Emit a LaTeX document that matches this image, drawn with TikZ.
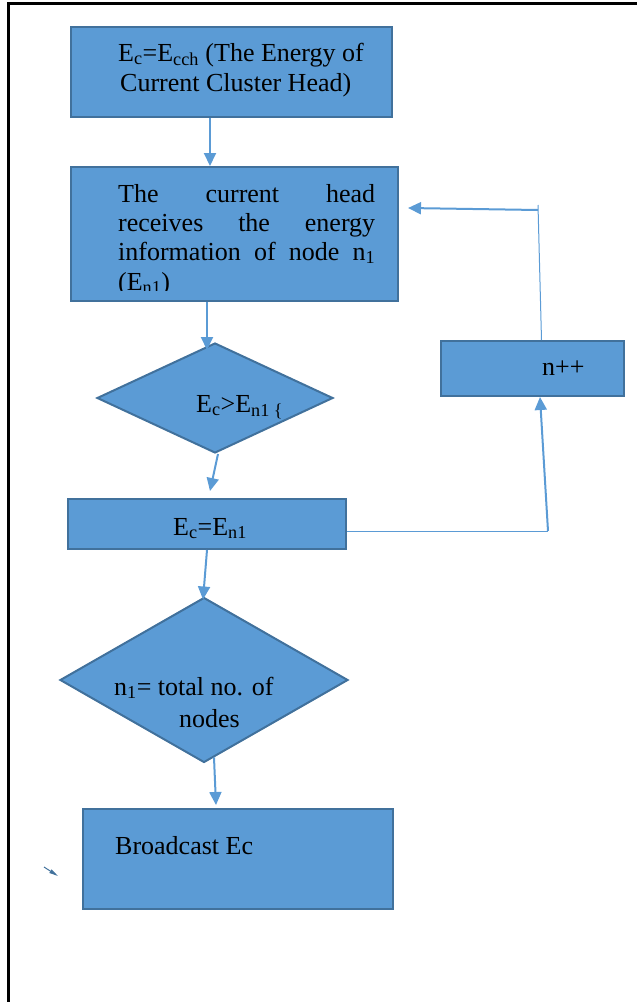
\documentclass[tikz,border=0pt]{standalone}
\usepackage{fontspec}
\setmainfont{Liberation Serif}
\usetikzlibrary{shapes.geometric,arrows.meta}
\definecolor{flowfill}{HTML}{5B9BD5}
\definecolor{flowedge}{HTML}{41719C}
\begin{document}
\begin{tikzpicture}[x=1pt,y=-1pt,
  every node/.style={font=\fontsize{26}{29.3}\selectfont,inner sep=0pt},
  procbox/.style={draw=flowedge,line width=2pt,fill=flowfill},
  decbox/.style={diamond,draw=flowedge,line width=2pt,fill=flowfill},
  flowarr/.style={draw=flowfill,line width=2pt,-{Triangle[length=13pt,width=12pt]}},
  thinline/.style={draw=flowfill,line width=1pt},
  lbl/.style={anchor=base west}]
\useasboundingbox (0,0) rectangle (637,1002);
\draw[line width=2.5pt] (8.7,1002) -- (8.7,3.7) -- (637,3.7);
% shapes
\node[procbox,minimum width=321pt,minimum height=90pt] (start) at (231.5,72) {};
\node[procbox,minimum width=327pt,minimum height=134pt] (recv) at (234.5,234) {};
\node[decbox,minimum width=236pt,minimum height=110pt] (cmp) at (215,398) {};
\node[procbox,minimum width=278pt,minimum height=50pt] (swap) at (207,524) {};
\node[procbox,minimum width=183pt,minimum height=55pt] (inc) at (532.5,368.5) {};
\node[decbox,minimum width=288pt,minimum height=165pt] (last) at (204,680) {};
\node[procbox,minimum width=310pt,minimum height=100pt] (bcast) at (238,859) {};
% texts
\node[lbl] (start-a) at (118,61) {E\textsubscript{c}=E\textsubscript{cch} (The Energy of};
\node[lbl] (start-b) at (120,91) {Current Cluster Head)};
\begin{scope}
\clip (72,168) rectangle (397,290.5);
\node[lbl] (recv-a) at (118,202) {\makebox[257pt][s]{The\hfill current\hfill head}};
\node[lbl] (recv-b) at (118,231) {\makebox[257pt][s]{receives\hfill the\hfill energy}};
\node[lbl] (recv-c) at (118,260) {\makebox[257pt][s]{information\hfill of\hfill node\hfill n\textsubscript{1}}};
\node[lbl] (recv-d) at (118,290) {(E\textsubscript{n1})};
\end{scope}
\node[lbl] (cmp-t) at (196,412) {E\textsubscript{c}>E\textsubscript{n1 \{}};
\node[lbl] (swap-t) at (173,535) {E\textsubscript{c}=E\textsubscript{n1}};
\node[lbl] (inc-t) at (542,375) {n++};
\node[lbl] (last-a) at (114,695) {n\textsubscript{1}= total no. of};
\node[lbl] (last-b) at (179,727) {nodes};
\node[lbl] (bcast-t) at (115,854) {Broadcast Ec};
% connectors
\coordinate (lowturn) at (548,531);
\coordinate (highturn) at (538,205);
\draw[flowarr] ([xshift=-21.5pt]start.south) -- ([xshift=-24.5pt]recv.north);
\draw[flowarr] ([xshift=-27.5pt]recv.south) -- ([xshift=-8pt,yshift=-8pt]cmp.north);
\draw[flowarr] ([xshift=3pt]cmp.south) -- ([xshift=3pt,yshift=7pt]swap.north);
\draw[thinline] ([yshift=-7pt]swap.east) -- (lowturn);
\draw[flowarr] (lowturn) -- ([xshift=7.5pt]inc.south);
\draw[thinline] ([xshift=9pt]inc.north) -- (highturn);
\draw[flowarr] ([yshift=-5pt]highturn) -- ([xshift=9pt,yshift=26pt]recv.east);
\draw[flowarr] (swap.south) -- ([xshift=-1pt,yshift=-3pt]last.north);
\draw[flowarr] ([xshift=10pt,yshift=6pt]last.south) -- ([xshift=-22pt,yshift=3pt]bcast.north);
% stray mark
\draw[flowedge,line width=1pt,-{Triangle[length=9pt,width=4pt]}] (44,867) -- (58,876);
\end{tikzpicture}
\end{document}
